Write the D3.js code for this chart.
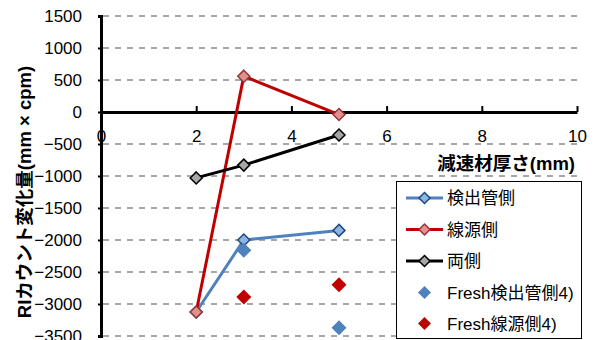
<!DOCTYPE html>
<html>
<head>
<meta charset="utf-8">
<script src="https://cdn.jsdelivr.net/npm/d3@7"></script>
<style>
  html, body { margin: 0; padding: 0; background: #fff; }
  svg { display: block; font-family: "Liberation Sans", "Noto Sans CJK JP", sans-serif; }
</style>
</head>
<body>
<svg id="chart" width="596" height="340"></svg>
<script>
// Moderator thickness (mm)
const thickness = [2, 3, 5];
// RI count change (mm x cpm) per configuration
const detectorSide = [-3125, -2000, -1850];
const sourceSide   = [-3125, 560, -40];
const bothSides    = [-1030, -830, -360];
// Reference values (Fresh), measured at 3 and 5 mm
const freshThickness = [3, 5];
const freshDetector  = [-2160, -3370];
const freshSource    = [-2890, -2700];

const xTicks = [0, 2, 4, 6, 8, 10];
const yTicks = [1500, 1000, 500, 0, -500, -1000, -1500, -2000, -2500, -3000, -3500];

const seriesNames = ["検出管側", "線源側", "両側", "Fresh検出管側4)", "Fresh線源側4)"];

const svg = d3.select("#chart");
const plotL = 101, plotR = 577, plotT = 16, plotB = 336;

const x = d3.scaleLinear().domain([0, 10]).range([plotL, plotR]);
const y = d3.scaleLinear().domain([-3500, 1500]).range([plotB, plotT]);

// Dashed horizontal gridlines
svg.append("g").selectAll("line")
  .data(yTicks.filter(v => v !== 0))
  .join("line")
  .attr("x1", plotL + 2).attr("x2", plotR)
  .attr("y1", d => y(d)).attr("y2", d => y(d))
  .attr("stroke", "#8c8c8c").attr("stroke-width", 1.5)
  .attr("stroke-dasharray", "6,6");

// Y axis
const yAxis = svg.append("g")
  .attr("transform", `translate(${plotL},0)`)
  .call(d3.axisLeft(y).tickValues(yTicks).tickSize(3).tickPadding(16).tickFormat(d3.format("d")));
yAxis.select(".domain").attr("stroke", "#000").attr("stroke-width", 3);
yAxis.selectAll(".tick line").attr("stroke", "#000").attr("stroke-width", 2);
yAxis.selectAll(".tick text")
  .attr("font-size", 17).attr("fill", "#000")
  .attr("font-family", "Liberation Sans, sans-serif");

// X axis drawn at y = 0, ticks pointing up, labels below
const xAxis = svg.append("g")
  .attr("transform", `translate(0,${y(0)})`)
  .call(d3.axisBottom(x).tickValues(xTicks).tickSizeInner(-6).tickSizeOuter(0).tickPadding(0));
xAxis.select(".domain").attr("stroke", "#000").attr("stroke-width", 3);
xAxis.selectAll(".tick line").attr("stroke", "#000").attr("stroke-width", 2);
xAxis.selectAll(".tick line").filter(d => d === 0).remove();
xAxis.selectAll(".tick text")
  .attr("font-size", 17).attr("fill", "#000")
  .attr("y", 30).attr("dy", 0)
  .attr("font-family", "Liberation Sans, sans-serif");

// Axis titles
svg.append("text")
  .attr("transform", `translate(31,192) rotate(-90)`)
  .attr("text-anchor", "middle")
  .attr("font-size", 18.5).attr("font-weight", "bold")
  .text("RIカウント変化量(mm × cpm)");

svg.append("text")
  .attr("x", 575).attr("y", 170)
  .attr("text-anchor", "end")
  .attr("font-size", 18.5).attr("font-weight", "bold")
  .text("減速材厚さ(mm)");

const diamond = (s) => `M0,${-s}L${s},0L0,${s}L${-s},0Z`;

const lineGen = d3.line().x(d => x(d[0])).y(d => y(d[1]));

const lineSeries = [
  { values: detectorSide, line: "#4f81bd", fill: "#8db4e2", stroke: "#1f497d" },
  { values: sourceSide,   line: "#c00000", fill: "#e0908e", stroke: "#953735" },
  { values: bothSides,    line: "#000000", fill: "#a6a6a6", stroke: "#000000" }
];

const plot = svg.append("g");
lineSeries.forEach(s => {
  const pts = thickness.map((t, i) => [t, s.values[i]]);
  plot.append("path")
    .attr("d", lineGen(pts))
    .attr("fill", "none").attr("stroke", s.line).attr("stroke-width", 3);
  plot.selectAll(null).data(pts).join("path")
    .attr("transform", d => `translate(${x(d[0])},${y(d[1])})`)
    .attr("d", diamond(6))
    .attr("fill", s.fill).attr("stroke", s.stroke).attr("stroke-width", 1.5);
});

const freshSeries = [
  { values: freshDetector, fill: "#4f81bd" },
  { values: freshSource,   fill: "#c00000" }
];
freshSeries.forEach(s => {
  plot.selectAll(null).data(freshThickness.map((t, i) => [t, s.values[i]])).join("path")
    .attr("transform", d => `translate(${x(d[0])},${y(d[1])})`)
    .attr("d", diamond(7.5))
    .attr("fill", s.fill);
});

// Legend
const lg = svg.append("g");
lg.append("rect")
  .attr("x", 396.5).attr("y", 181.5).attr("width", 185).attr("height", 157)
  .attr("fill", "#fff").attr("stroke", "#000").attr("stroke-width", 1);

const legendY = [198, 229.5, 261, 292.5, 323.5];
seriesNames.forEach((name, i) => {
  const cy = legendY[i];
  if (i < 3) {
    const s = lineSeries[i];
    lg.append("line").attr("x1", 406).attr("x2", 443).attr("y1", cy).attr("y2", cy)
      .attr("stroke", s.line).attr("stroke-width", 3);
    lg.append("path").attr("transform", `translate(424.5,${cy})`).attr("d", diamond(5.5))
      .attr("fill", s.fill).attr("stroke", s.stroke).attr("stroke-width", 1.5);
  } else {
    lg.append("path").attr("transform", `translate(424.5,${cy})`).attr("d", diamond(6.5))
      .attr("fill", freshSeries[i - 3].fill);
  }
  lg.append("text").attr("x", 447).attr("y", cy).attr("dy", "0.36em")
    .attr("font-size", 17).text(name);
});
</script>
</body>
</html>
